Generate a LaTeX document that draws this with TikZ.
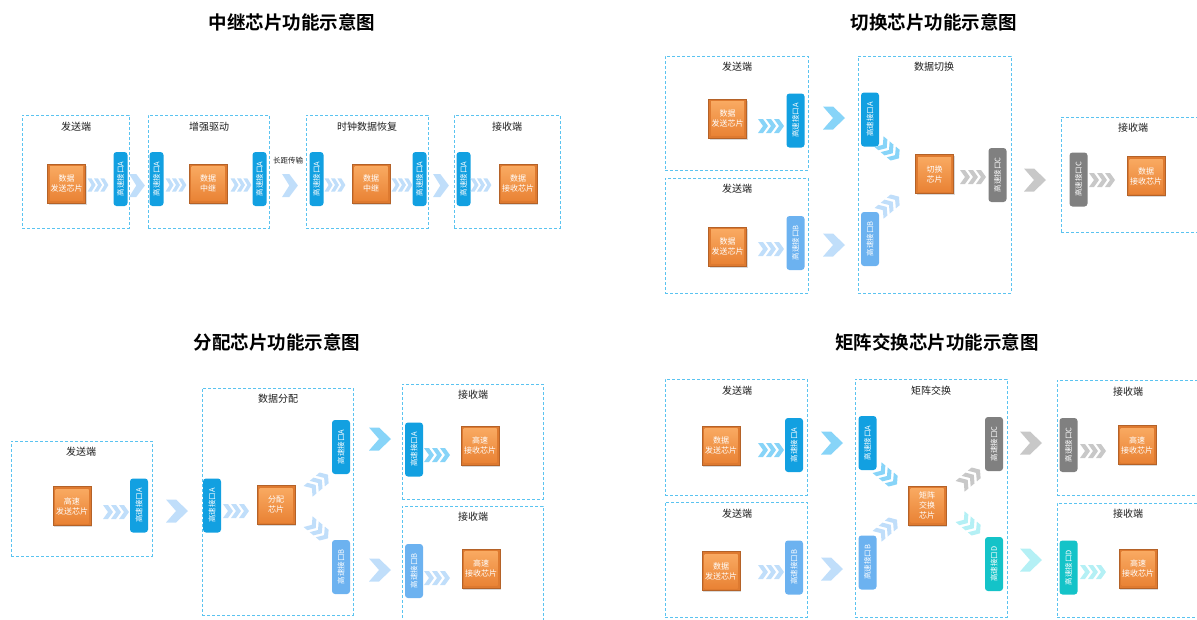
\documentclass[tikz,border=0pt]{standalone}
\usepackage{fontspec}
\setmainfont{Noto Sans CJK SC}[BoldFont={Noto Sans CJK SC Bold}]
\usetikzlibrary{shadows}
\definecolor{regionblue}{RGB}{90,195,240}
\definecolor{ifA}{RGB}{18,160,225}
\definecolor{ifB}{RGB}{108,178,240}
\definecolor{ifC}{RGB}{128,128,128}
\definecolor{ifD}{RGB}{20,195,200}
\definecolor{chevA}{RGB}{135,212,248}
\definecolor{chevB}{RGB}{192,222,250}
\definecolor{chevC}{RGB}{200,200,200}
\definecolor{chevD}{RGB}{180,240,245}
\definecolor{chiptop}{RGB}{250,172,100}
\definecolor{chipbot}{RGB}{232,128,50}
\definecolor{chipmid}{RGB}{222,122,48}
\definecolor{chipedge}{RGB}{180,98,40}
\definecolor{labelgray}{RGB}{30,30,30}
\tikzset{
  region/.style={draw=regionblue, line width=1pt, dash pattern=on 3pt off 2pt, rectangle, inner sep=0pt},
  rlabel/.style={font=\fontsize{10}{12}\selectfont, text=labelgray, inner sep=0pt},
  ptitle/.style={font=\bfseries\fontsize{18.5}{22}\selectfont, text=black, inner sep=0pt},
  chip/.style={rectangle, minimum width=38pt, minimum height=39pt, inner sep=0pt,
    draw=chipedge, line width=0.6pt, fill=chipmid, text=white, align=center,
    font=\fontsize{8}{10}\selectfont,
    drop shadow={opacity=0.3, shadow xshift=1.2pt, shadow yshift=-1.8pt},
    path picture={\shade[top color=chiptop, bottom color=chipbot]
      ([shift={(2.5pt,-2.5pt)}]path picture bounding box.north west) rectangle
      ([shift={(-2.5pt,2.5pt)}]path picture bounding box.south east);}},
  iface/.style={rectangle, rounded corners=3pt, rotate=90, minimum width=54pt,
    minimum height=18pt, inner sep=0pt, text=white, font=\fontsize{7.5}{8}\selectfont},
  ifacen/.style={iface, minimum height=14pt},
  bigchev/.pic={\fill[#1] (-11,-11.5) -- (-1,-11.5) -- (11,0) -- (-1,11.5) -- (-11,11.5) -- (-1,0) -- cycle;},
  chevs/.pic={\foreach \d in {-8,0,8}{\fill[#1] (\d-5,-7) -- (\d,-7) -- (\d+5,0) -- (\d,7) -- (\d-5,7) -- (\d,0) -- cycle;}},
}
\begin{document}
\begin{tikzpicture}[x=1pt,y=-1pt]
\useasboundingbox (0,0) rectangle (1197,619);

% ================= Panel 1: 中继 =================
\node[ptitle] (t1) at (292,22) {中继芯片功能示意图};
\node[region, minimum width=107pt, minimum height=113pt] (p1r1) at (75.5,171.5) {};
\node[region, minimum width=121pt, minimum height=113pt] (p1r2) at (208.5,171.5) {};
\node[region, minimum width=122pt, minimum height=113pt] (p1r3) at (367,171.5) {};
\node[region, minimum width=106pt, minimum height=113pt] (p1r4) at (507,171.5) {};
\node[rlabel] (p1l1) at (76,127) {发送端};
\node[rlabel] (p1l2) at (209,127) {增强驱动};
\node[rlabel] (p1l3) at (367,127) {时钟数据恢复};
\node[rlabel] (p1l4) at (507,127) {接收端};
\node[chip] (p1c1) at (66.5,183.5) {数据\\发送芯片};
\node[chip] (p1c2) at (208,183.5) {数据\\中继};
\node[chip] (p1c3) at (371,183.5) {数据\\中继};
\node[chip] (p1c4) at (518,183.5) {数据\\接收芯片};
\node[ifacen, fill=ifA] (p1i1) at (120.5,179) {高速接口A};
\node[ifacen, fill=ifA] (p1i2) at (156.5,179) {高速接口A};
\node[ifacen, fill=ifA] (p1i3) at (259.5,179) {高速接口A};
\node[ifacen, fill=ifA] (p1i4) at (316.5,179) {高速接口A};
\node[ifacen, fill=ifA] (p1i5) at (419.5,179) {高速接口A};
\node[ifacen, fill=ifA] (p1i6) at (463.5,179) {高速接口A};
\node[font=\fontsize{7.5}{8}\selectfont, text=labelgray, inner sep=0pt] (p1long) at (288,161) {长距传输};
\pic[yscale=0.93,xscale=0.8] at (98,185) {chevs=chevB};
\pic[yscale=0.93,xscale=0.8] at (176,185) {chevs=chevB};
\pic[yscale=0.93,xscale=0.8] at (241,185) {chevs=chevB};
\pic[yscale=0.93,xscale=0.8] at (335,185) {chevs=chevB};
\pic[yscale=0.93,xscale=0.8] at (402,185) {chevs=chevB};
\pic[yscale=0.93,xscale=0.8] at (481,185) {chevs=chevB};
\pic[xscale=0.72] at (137,185.5) {bigchev=chevB};
\pic[xscale=0.72] at (290,185.5) {bigchev=chevB};
\pic[xscale=0.72] at (441,185.5) {bigchev=chevB};

% ================= Panel 2: 切换 =================
\node[ptitle] (t2) at (934,22) {切换芯片功能示意图};
\node[region, minimum width=143pt, minimum height=114pt] (p2r1) at (736.5,113) {};
\node[region, minimum width=143pt, minimum height=115pt] (p2r2) at (736.5,235.5) {};
\node[region, minimum width=153pt, minimum height=237pt] (p2r3) at (934.5,174.5) {};
\node[region, minimum width=144pt, minimum height=115pt] (p2r4) at (1133,174.5) {};
\node[rlabel] (p2l1) at (737,67) {发送端};
\node[rlabel] (p2l2) at (737,189) {发送端};
\node[rlabel] (p2l3) at (934,67) {数据切换};
\node[rlabel] (p2l4) at (1133,128) {接收端};
\node[chip] (p2c1) at (727.5,118.5) {数据\\发送芯片};
\node[chip] (p2c2) at (727.5,246.5) {数据\\发送芯片};
\node[chip] (p2c3) at (934.5,174) {切换\\芯片};
\node[chip] (p2c4) at (1146,176) {数据\\接收芯片};
\node[iface, fill=ifA] (p2i1) at (795.5,120.5) {高速接口A};
\node[iface, fill=ifB] (p2i2) at (795.5,243) {高速接口B};
\node[iface, fill=ifA] (p2i3) at (870,119.5) {高速接口A};
\node[iface, fill=ifB] (p2i4) at (870,239) {高速接口B};
\node[iface, fill=ifC] (p2i5) at (997.5,175) {高速接口C};
\node[iface, fill=ifC] (p2i6) at (1078.5,179.5) {高速接口C};
\pic at (771,126) {chevs=chevA};
\pic at (834,118) {bigchev=chevA};
\pic at (771,249) {chevs=chevB};
\pic at (834,245) {bigchev=chevB};
\pic[rotate=-40] at (889,150) {chevs=chevA};
\pic[rotate=40] at (889,205) {chevs=chevB};
\pic at (973,177) {chevs=chevC};
\pic at (1035,180) {bigchev=chevC};
\pic at (1102,180) {chevs=chevC};

% ================= Panel 3: 分配 =================
\node[ptitle] (t3) at (277,342) {分配芯片功能示意图};
\node[region, minimum width=141pt, minimum height=115pt] (p3r1) at (81.5,498.5) {};
\node[region, minimum width=151pt, minimum height=227pt] (p3r2) at (277.5,501.5) {};
\node[region, minimum width=141pt, minimum height=115pt] (p3r3) at (472.5,441.5) {};
\node[region, minimum width=141pt, minimum height=119pt] (p3r4) at (472.5,565.5) {};
\node[rlabel] (p3l1) at (81,452) {发送端};
\node[rlabel] (p3l2) at (278,399) {数据分配};
\node[rlabel] (p3l3) at (473,395) {接收端};
\node[rlabel] (p3l4) at (473,517) {接收端};
\node[chip] (p3c1) at (72,506) {高速\\发送芯片};
\node[chip] (p3c2) at (276,505) {分配\\芯片};
\node[chip] (p3c3) at (480,445.5) {高速\\接收芯片};
\node[chip] (p3c4) at (481,568.5) {高速\\接收芯片};
\node[iface, fill=ifA] (p3i1) at (139,505.5) {高速接口A};
\node[iface, fill=ifA] (p3i2) at (212,505.5) {高速接口A};
\node[iface, fill=ifA] (p3i3) at (341,447) {高速接口A};
\node[iface, fill=ifB] (p3i4) at (341,567) {高速接口B};
\node[iface, fill=ifA] (p3i5) at (414,449.5) {高速接口A};
\node[iface, fill=ifB] (p3i6) at (414,571) {高速接口B};
\pic at (116,512) {chevs=chevB};
\pic at (177,511) {bigchev=chevB};
\pic at (236,511) {chevs=chevB};
\pic[rotate=40] at (318,483) {chevs=chevB};
\pic[rotate=-40] at (318,530) {chevs=chevB};
\pic at (380,439) {bigchev=chevA};
\pic at (380,570) {bigchev=chevB};
\pic at (437,455) {chevs=chevA};
\pic at (437,578) {chevs=chevB};

% ================= Panel 4: 矩阵交换 =================
\node[ptitle] (t4) at (937,342) {矩阵交换芯片功能示意图};
\node[region, minimum width=142pt, minimum height=116pt] (p4r1) at (736,437) {};
\node[region, minimum width=142pt, minimum height=115pt] (p4r2) at (736,559.5) {};
\node[region, minimum width=152pt, minimum height=238pt] (p4r3) at (931,498) {};
\node[region, minimum width=148pt, minimum height=115pt] (p4r4) at (1131,437.5) {};
\node[region, minimum width=148pt, minimum height=114pt] (p4r5) at (1131,560) {};
\node[rlabel] (p4l1) at (737,391) {发送端};
\node[rlabel] (p4l2) at (737,514) {发送端};
\node[rlabel] (p4l3) at (931,391) {矩阵交换};
\node[rlabel] (p4l4) at (1128,392) {接收端};
\node[rlabel] (p4l5) at (1128,514) {接收端};
\node[chip] (p4c1) at (721,445.5) {数据\\发送芯片};
\node[chip] (p4c2) at (721,571) {数据\\发送芯片};
\node[chip] (p4c3) at (927,505.5) {矩阵\\交换\\芯片};
\node[chip] (p4c4) at (1137,445) {高速\\接收芯片};
\node[chip] (p4c5) at (1138,568.5) {高速\\接收芯片};
\node[iface, fill=ifA] (p4i1) at (794,445) {高速接口A};
\node[iface, fill=ifB] (p4i2) at (794,567.5) {高速接口B};
\node[iface, fill=ifA] (p4i3) at (867.5,443) {高速接口A};
\node[iface, fill=ifB] (p4i4) at (867.5,562.5) {高速接口B};
\node[iface, fill=ifC] (p4i5) at (994,444) {高速接口C};
\node[iface, fill=ifD] (p4i6) at (994,564) {高速接口D};
\node[iface, fill=ifC] (p4i7) at (1068.5,445) {高速接口C};
\node[iface, fill=ifD] (p4i8) at (1068.5,567.5) {高速接口D};
\pic at (771,450) {chevs=chevA};
\pic at (832,443) {bigchev=chevA};
\pic at (771,572) {chevs=chevB};
\pic at (832,569) {bigchev=chevB};
\pic[rotate=-40] at (887,476) {chevs=chevA};
\pic[rotate=40] at (887,528) {chevs=chevB};
\pic[rotate=40] at (970,478) {chevs=chevC};
\pic[rotate=-40] at (970,525) {chevs=chevD};
\pic at (1031,443) {bigchev=chevC};
\pic at (1031,560) {bigchev=chevD};
\pic at (1093,451) {chevs=chevC};
\pic at (1093,572) {chevs=chevD};
\end{tikzpicture}
\end{document}
